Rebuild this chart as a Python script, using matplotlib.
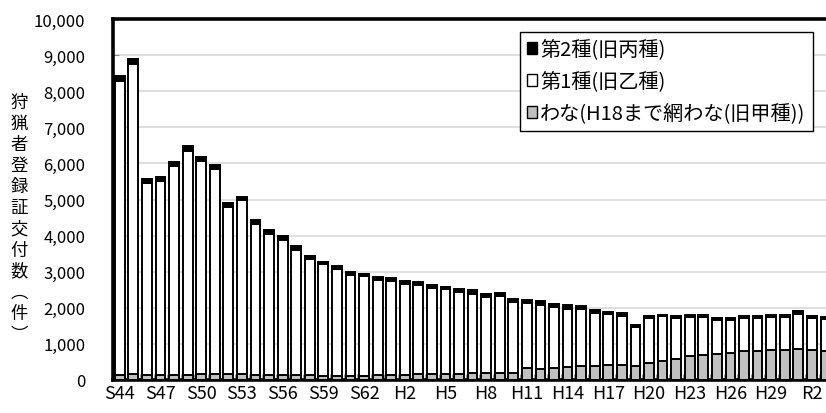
import numpy as np
import matplotlib
matplotlib.use("Agg")
import matplotlib.pyplot as plt
from matplotlib.patches import Patch

plt.rcParams['font.family'] = ['Noto Sans CJK JP', 'DejaVu Sans']

# 年度 (S44 .. R3)
years = (["S%d" % y for y in range(44, 64)]
         + ["H%d" % y for y in range(1, 31)]
         + ["R1", "R2", "R3"])

# わな (H18まで網わな(旧甲種))
wana = [140, 170, 130, 130, 140, 150, 170, 170, 170, 160,
        150, 140, 140, 130, 130, 120, 120, 120, 120, 130,
        140, 150, 155, 160, 165, 175, 185, 190, 200, 190,
        320, 300, 330, 370, 400, 400, 425, 425, 380, 470,
        535, 580, 655, 700, 720, 750, 810, 810, 830, 830,
        860, 830, 810]

# 第1種 (旧乙種)
dai1 = [8140, 8575, 5325, 5385, 5775, 6195, 5885, 5675, 4630, 4820,
        4175, 3905, 3740, 3470, 3230, 3080, 2960, 2790, 2750, 2650,
        2600, 2515, 2475, 2380, 2345, 2275, 2205, 2120, 2120, 1970,
        1810, 1790, 1680, 1610, 1555, 1450, 1395, 1360, 1100, 1240,
        1225, 1130, 1095, 1040, 950, 920, 920, 900, 910, 915,
        960, 890, 880]

# 第2種 (旧丙種)
dai2 = [150, 145, 115, 105, 115, 125, 125, 115, 100, 100,
        115, 115, 100, 100, 80, 70, 90, 70, 70, 70,
        80, 85, 80, 80, 80, 80, 90, 80, 90, 90,
        90, 90, 90, 90, 95, 80, 60, 60, 30, 50,
        50, 50, 50, 50, 50, 50, 50, 50, 50, 55,
        80, 60, 50]

labels = ["わな(H18まで網わな(旧甲種))", "第1種(旧乙種)", "第2種(旧丙種)"]
ylabel = "狩猟者登録証交付数︵件︶"

x = np.arange(len(years))
wana = np.array(wana)
dai1 = np.array(dai1)
dai2 = np.array(dai2)

fig = plt.figure(figsize=(8.26, 4.14), dpi=100)
ax = fig.add_axes([113 / 826, 33 / 414, 54 * 13.57 / 826, 361 / 414])

bw = 0.72
ax.bar(x, wana, bw, color="#c0c0c0", edgecolor="black", linewidth=1.4, zorder=3)
ax.bar(x, dai1, bw, bottom=wana, color="white", edgecolor="black",
       linewidth=1.4, zorder=3)
ax.bar(x, dai2, bw, bottom=wana + dai1, color="black", edgecolor="black",
       linewidth=1.4, zorder=3)

ax.set_xlim(-0.5, 53.5)
ax.set_ylim(0, 10000)
ax.set_yticks(np.arange(0, 10001, 1000))
ax.set_yticklabels(["{:,}".format(v) for v in range(0, 10001, 1000)],
                   fontsize=12)
ax.set_xticks(x[::3])
ax.set_xticklabels(years[::3], fontsize=13)
ax.set_xticks(np.arange(-0.5, 53.5, 1), minor=True)
ax.tick_params(axis="x", which="major", length=0, pad=3)
ax.tick_params(axis="x", which="minor", direction="in", length=4, color="#888888")
ax.tick_params(axis="y", direction="in", length=4, color="#888888", pad=20)

ax.grid(axis="y", color="#d9d9d9", linewidth=1.2, zorder=0)
ax.set_axisbelow(True)
for s in ["left", "top", "bottom"]:
    ax.spines[s].set_linewidth(2.6)
    ax.spines[s].set_color("black")
ax.spines["right"].set_visible(False)

fig.text(19 / 826, 1 - 219 / 414, "\n".join(ylabel), ha="center", va="center",
         fontsize=12.5, linespacing=1.22)

handles = [Patch(facecolor="black", edgecolor="black"),
           Patch(facecolor="white", edgecolor="black"),
           Patch(facecolor="#c0c0c0", edgecolor="black")]
leg = fig.legend(handles, labels[::-1], loc="upper left",
                 bbox_to_anchor=(520 / 826, 1 - 33 / 414), borderaxespad=0,
                 fancybox=False, edgecolor="black", framealpha=1,
                 fontsize=14.5, handlelength=0.5, handleheight=0.5,
                 handletextpad=0.15, labelspacing=0.55, borderpad=0.35)
leg.get_frame().set_linewidth(1.0)

fig.savefig("out.png", dpi=100)
